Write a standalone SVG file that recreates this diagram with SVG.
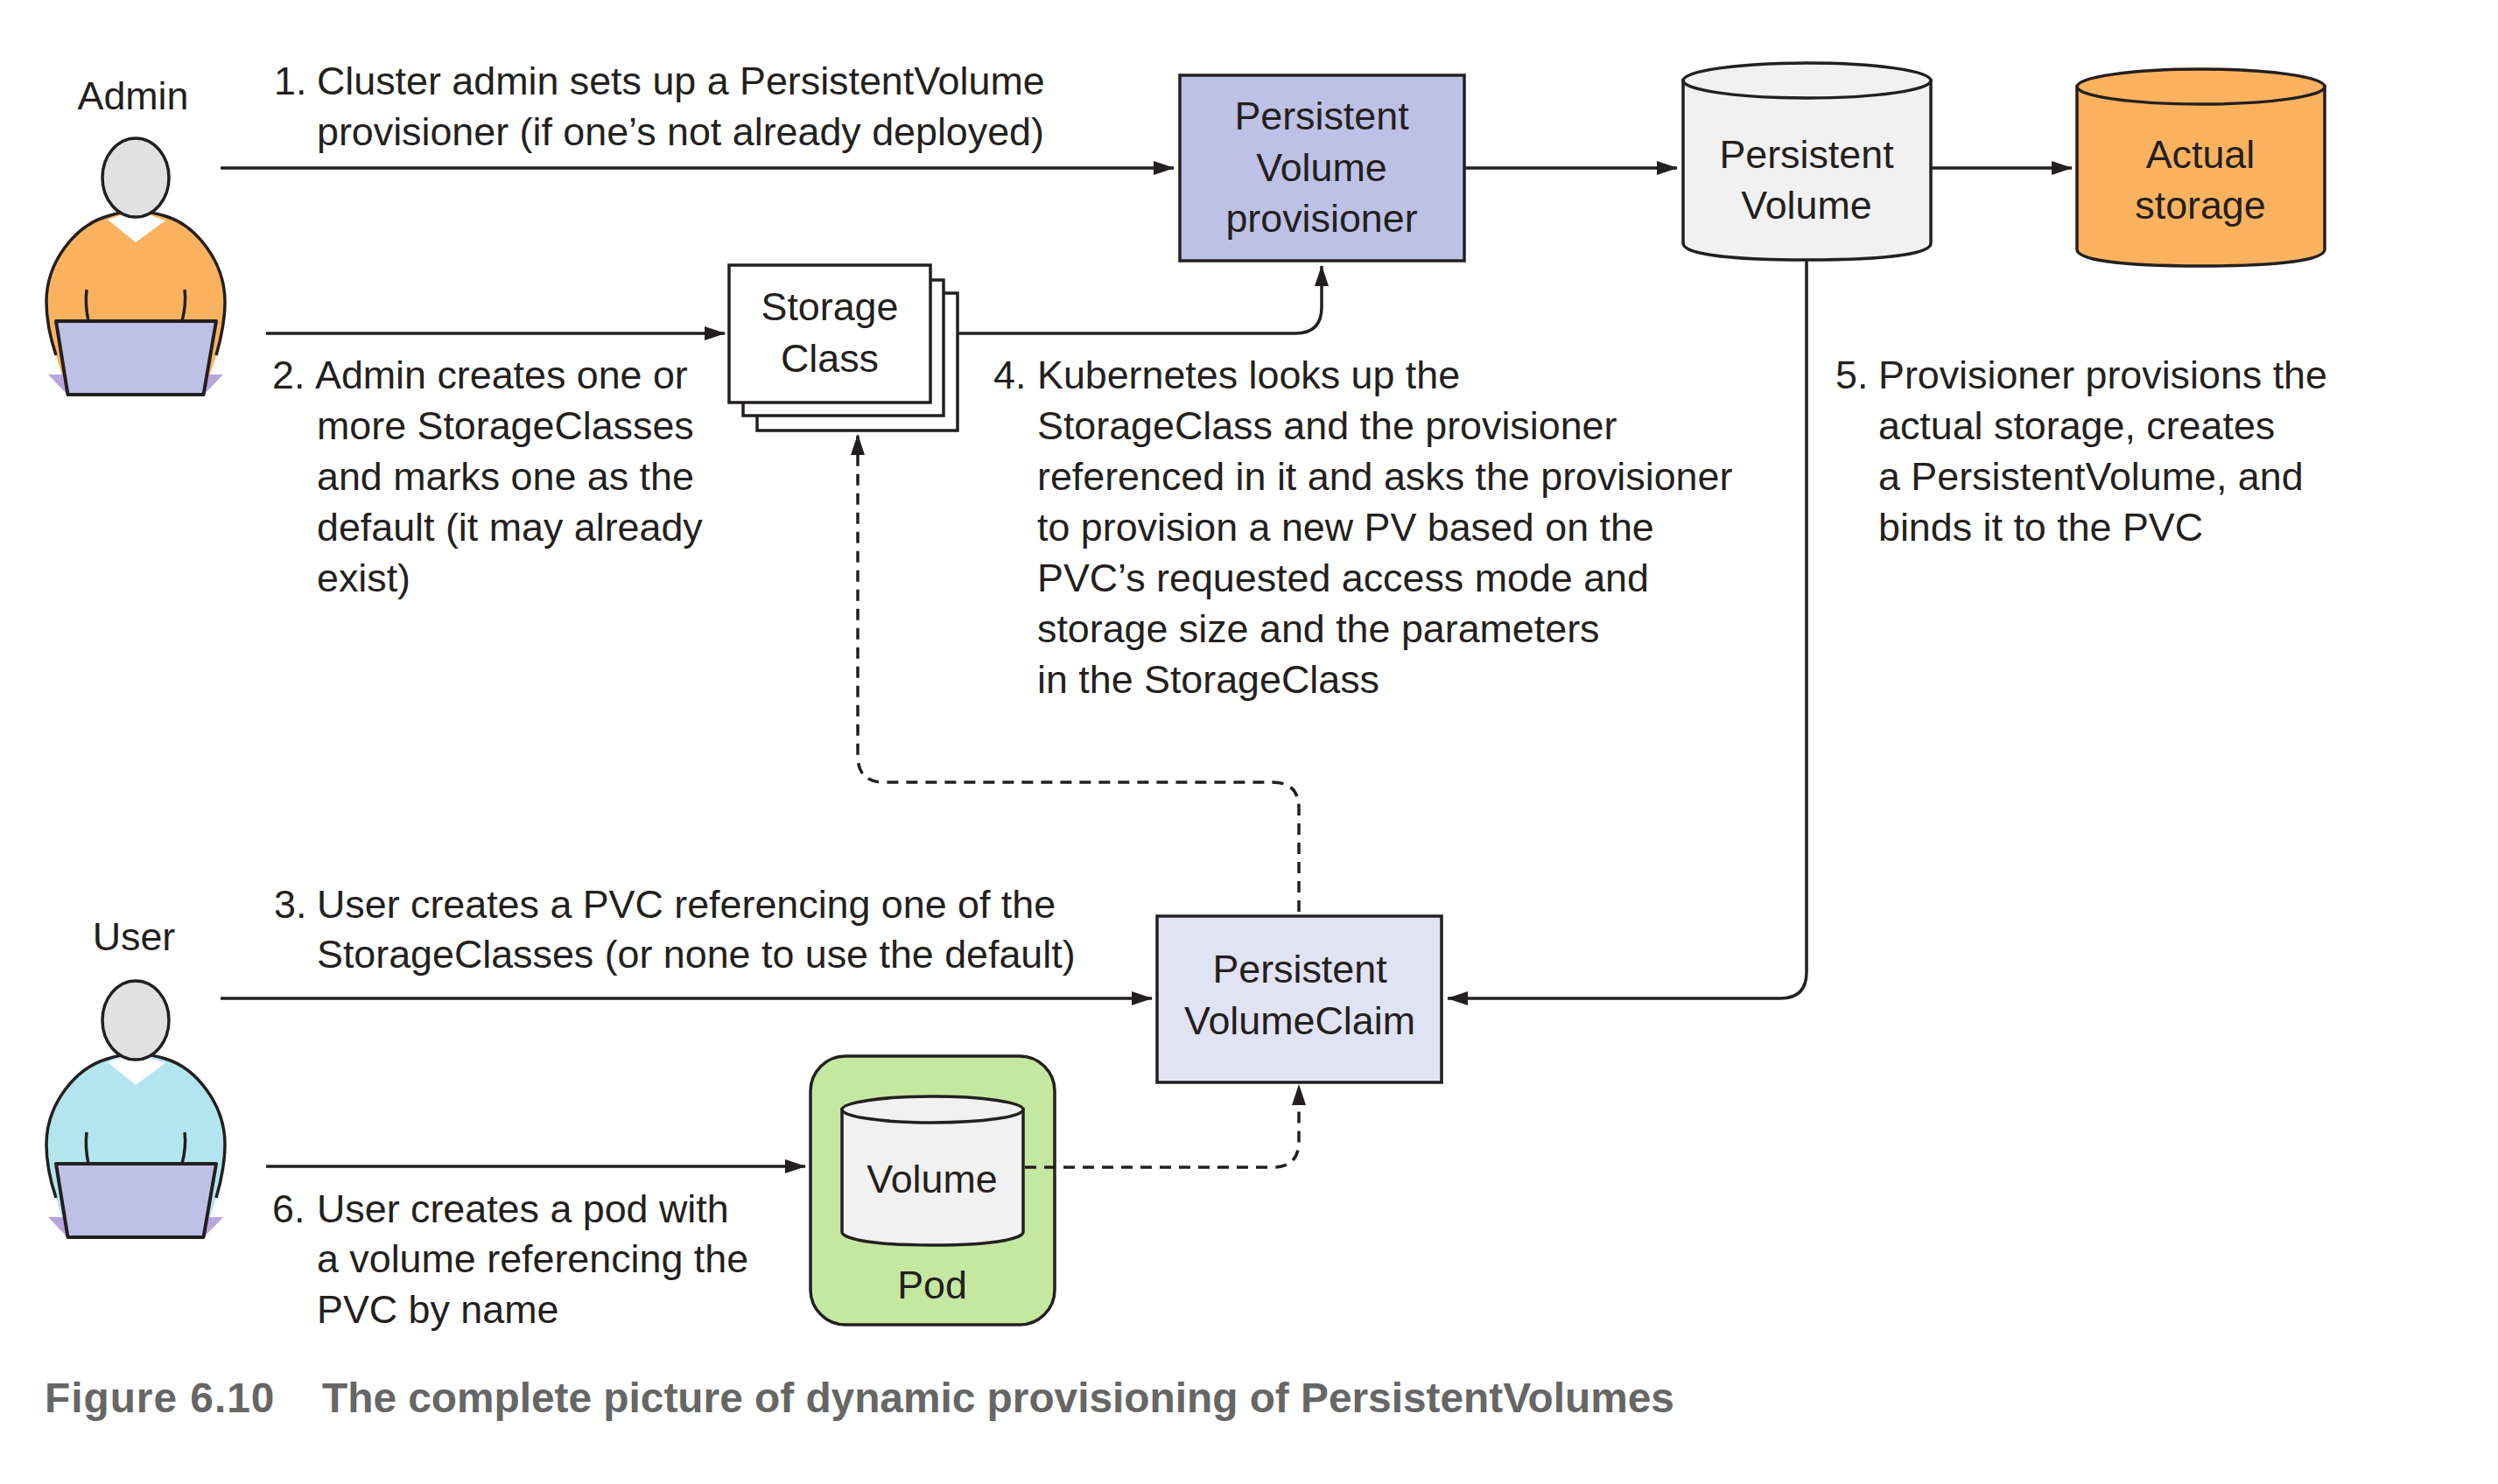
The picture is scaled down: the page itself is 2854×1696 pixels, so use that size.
<svg xmlns="http://www.w3.org/2000/svg" width="2854" height="1696" viewBox="0 0 2854 1696">
<style>
text{font-family:"Liberation Sans",Arial,sans-serif;font-size:44.800px;fill:#231f20}
.c{text-anchor:middle}
.o{fill:none;stroke:#231f20;stroke-width:3.5}
.s{stroke:#231f20;stroke-width:3.5}
.d{stroke-dasharray:13 9}
.cap{font-weight:bold;font-size:47.800px;fill:#666}
</style>
<defs>
<marker id="a" markerUnits="userSpaceOnUse" markerWidth="26" markerHeight="18" refX="24" refY="9" orient="auto"><path d="M1,1 L25,9 L1,17 Z" fill="#231f20"/></marker>
<g id="fig">
<path d="M64,406 C57,385 53,365 53,345 C53,300 85,258 123,247 Q155,236 189,247 C225,258 257,300 257,345 C257,365 253,385 247,406 L232,452 L78,452 Z"/>
<path d="M64,406 C57,385 53,365 53,345 C53,300 85,258 123,247 Q155,236 189,247 C225,258 257,300 257,345 C257,365 253,385 247,406" class="o"/>
<path d="M123,251 L155,277 L189,252 L155,240 Z" fill="#fff"/>
<ellipse cx="155" cy="203" rx="38" ry="45" fill="#e1e1e1" class="s"/>
<path d="M99,331 Q97,348 101,367 M211,331 Q213,348 208,367" class="o"/>
<path d="M55,428 L255,428 L232,452 L78,452 Z" fill="#b7a5db"/>
<path d="M64,367 L247,367 L232.500,451 L77.500,451 Z" fill="#bdc1e6" stroke="#231f20" stroke-width="4" stroke-linejoin="round"/>
</g>
</defs>
<rect width="2854" height="1696" fill="#fff"/>

<g id="admin"><text x="152" y="125" class="c">Admin</text><use href="#fig" fill="#fbb25f"/></g>
<g id="user"><text x="153" y="1086" class="c">User</text><use href="#fig" y="963" fill="#b2e5ee"/></g>

<g id="provisioner"><rect x="1348" y="86" width="325" height="212" fill="#bdc1e6" class="s"/>
<text x="1510" y="148" class="c">Persistent</text><text x="1510" y="207" class="c">Volume</text><text x="1510" y="265" class="c">provisioner</text></g>

<g id="persistent-volume"><path d="M1923,92 V278 C1923,288 1958,297 2064.500,297 S2206,288 2206,278 V92 Z" fill="#f1f1f1" class="s"/><ellipse cx="2064.500" cy="92" rx="141.500" ry="20" fill="#f1f1f1" class="s"/>
<text x="2064" y="192" class="c">Persistent</text><text x="2064" y="250" class="c">Volume</text></g>

<g id="actual-storage"><path d="M2373,99 V285 C2373,295 2408,304 2514.500,304 S2656,295 2656,285 V99 Z" fill="#fbb25f" class="s"/><ellipse cx="2514.500" cy="99" rx="141.500" ry="20" fill="#fbb25f" class="s"/>
<text x="2514" y="192" class="c">Actual</text><text x="2514" y="250" class="c">storage</text></g>

<g id="storage-class">
<rect x="865" y="335" width="229" height="157" fill="#fff" class="s"/>
<rect x="849" y="320" width="229" height="155" fill="#fff" class="s"/>
<rect x="833" y="303" width="230" height="157" fill="#fff" class="s"/>
<text x="948" y="366" class="c">Storage</text><text x="948" y="425" class="c">Class</text></g>

<g id="pvc"><rect x="1322" y="1047" width="325" height="190" fill="#e1e2f3" class="s"/>
<text x="1485" y="1123" class="c">Persistent</text><text x="1485" y="1182" class="c">VolumeClaim</text></g>

<g id="pod"><rect x="926" y="1207" width="279" height="307" rx="40" ry="40" fill="#c5e8a0" class="s"/>
<path d="M962,1268 V1408 C962,1414 986,1423 1065.500,1423 S1169,1414 1169,1408 V1268 Z" fill="#f1f1f1" class="s"/><ellipse cx="1065.500" cy="1268" rx="103.500" ry="15" fill="#f1f1f1" class="s"/>
<text x="1065" y="1363" class="c">Volume</text><text x="1065" y="1484" class="c">Pod</text></g>

<g id="connectors">
<path d="M252,192 H1341" class="o" marker-end="url(#a)"/>
<path d="M1673,192 H1916" class="o" marker-end="url(#a)"/>
<path d="M2206,192 H2367" class="o" marker-end="url(#a)"/>
<path d="M304,381 H828" class="o" marker-end="url(#a)"/>
<path d="M1094,381 H1480 Q1510,381 1510,351 V304" class="o" marker-end="url(#a)"/>
<path d="M2064,297 V1111 Q2064,1141 2034,1141 H1654" class="o" marker-end="url(#a)"/>
<path d="M252,1141 H1316" class="o" marker-end="url(#a)"/>
<path d="M304,1333 H920" class="o" marker-end="url(#a)"/>
<path d="M1171,1334 H1454 Q1484,1334 1484,1304 V1240" class="o d" marker-end="url(#a)"/>
<path d="M1484,1042 V924 Q1484,894 1454,894 H1010 Q980,894 980,864 V497" class="o d" marker-end="url(#a)"/>
</g>

<g id="labels">
<text x="313" y="108">1.</text><text x="362" y="108">Cluster admin sets up a PersistentVolume</text><text x="362" y="166">provisioner (if one’s not already deployed)</text>
<text x="311" y="444">2.</text><text x="360" y="444">Admin creates one or</text><text x="362" y="502">more StorageClasses</text><text x="362" y="560">and marks one as the</text><text x="362" y="618">default (it may already</text><text x="362" y="676">exist)</text>
<text x="313" y="1049">3.</text><text x="362" y="1049">User creates a PVC referencing one of the</text><text x="362" y="1106">StorageClasses (or none to use the default)</text>
<text x="1135" y="444">4.</text><text x="1185" y="444">Kubernetes looks up the</text><text x="1185" y="502">StorageClass and the provisioner</text><text x="1185" y="560">referenced in it and asks the provisioner</text><text x="1185" y="618">to provision a new PV based on the</text><text x="1185" y="676">PVC’s requested access mode and</text><text x="1185" y="734">storage size and the parameters</text><text x="1185" y="792">in the StorageClass</text>
<text x="2097" y="444">5.</text><text x="2146" y="444">Provisioner provisions the</text><text x="2146" y="502">actual storage, creates</text><text x="2146" y="560">a PersistentVolume, and</text><text x="2146" y="618">binds it to the PVC</text>
<text x="311" y="1397">6.</text><text x="362" y="1397">User creates a pod with</text><text x="362" y="1454">a volume referencing the</text><text x="362" y="1512">PVC by name</text>
<text x="51" y="1614" class="cap" letter-spacing="1">Figure 6.10</text><text x="368" y="1614" class="cap">The complete picture of dynamic provisioning of PersistentVolumes</text>
</g>
</svg>
